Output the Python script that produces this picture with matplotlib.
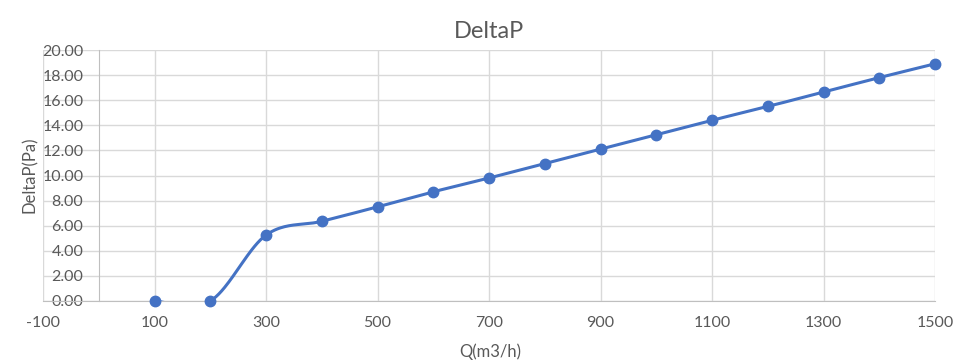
import numpy as np
import matplotlib.pyplot as plt

# Data
q = [100, 200, 300, 400, 500, 600, 700, 800, 900, 1000, 1100, 1200, 1300, 1400, 1500]
delta_p = [0.0, 0.0, 5.25, 6.35, 7.5, 8.7, 9.8, 10.95, 12.1, 13.25, 14.4, 15.5, 16.65, 17.8, 18.9]

x_ticks = list(range(-100, 1501, 200))
y_ticks = list(range(0, 21, 2))

line_color = "#4472C4"
text_color = "#595959"
grid_color = "#D9D9D9"


def excel_smooth(xs, ys, n=40):
    # Bezier spline like Excel's "smoothed line"
    xs = np.asarray(xs, float)
    ys = np.asarray(ys, float)
    px = np.concatenate([[xs[0]], xs, [xs[-1]]])
    py = np.concatenate([[ys[0]], ys, [ys[-1]]])
    t = np.linspace(0, 1, n)
    out_x, out_y = [], []
    for i in range(1, len(px) - 2):
        p0 = np.array([px[i], py[i]])
        p3 = np.array([px[i + 1], py[i + 1]])
        c1 = p0 + (p3 - np.array([px[i - 1], py[i - 1]])) / 6
        c2 = p3 - (np.array([px[i + 2], py[i + 2]]) - p0) / 6
        b = ((1 - t) ** 3)[:, None] * p0 + (3 * (1 - t) ** 2 * t)[:, None] * c1 \
            + (3 * (1 - t) * t ** 2)[:, None] * c2 + (t ** 3)[:, None] * p3
        out_x.extend(b[:, 0])
        out_y.extend(b[:, 1])
    return out_x, out_y


plt.rcParams['font.family'] = ['Lato', 'DejaVu Sans']

fig = plt.figure(figsize=(9.67, 3.63), dpi=100)
ax = fig.add_axes([43 / 967, 62 / 363, 892 / 967, 251 / 363])

sx, sy = excel_smooth(q, delta_p)
ax.plot(sx, sy, color=line_color, linewidth=2.2, solid_capstyle="round", zorder=3)
ax.plot(q, delta_p, linestyle="none", marker="o", markersize=7.5,
        color=line_color, clip_on=False, zorder=4)

ax.set_xlim(-100, 1500)
ax.set_ylim(0, 20)
ax.set_xticks(x_ticks)
ax.set_xticklabels([str(v) for v in x_ticks])
ax.set_yticks(y_ticks)
ax.set_yticklabels([f"{v:.2f}" for v in y_ticks])

ax.grid(True, color=grid_color, linewidth=1)
ax.set_axisbelow(True)

for side in ["top", "right"]:
    ax.spines[side].set_visible(False)
ax.spines["left"].set_position(("data", 0))
ax.spines["left"].set_color("#BFBFBF")
ax.spines["bottom"].set_color("#BFBFBF")
ax.tick_params(length=0, colors=text_color, labelsize=11.5)
ax.tick_params(axis="x", pad=11)
ax.tick_params(axis="y", pad=11)

ax.set_title("DeltaP", color=text_color, fontsize=17, pad=9)
fig.text(30 / 967, 1 - 175 / 363, "DeltaP(Pa)", rotation=90, color=text_color,
         fontsize=12, ha="center", va="center")
fig.text(490 / 967, 1 - 352 / 363, "Q(m3/h)", color=text_color,
         fontsize=12, ha="center", va="center")

fig.savefig("out.png", dpi=100)
